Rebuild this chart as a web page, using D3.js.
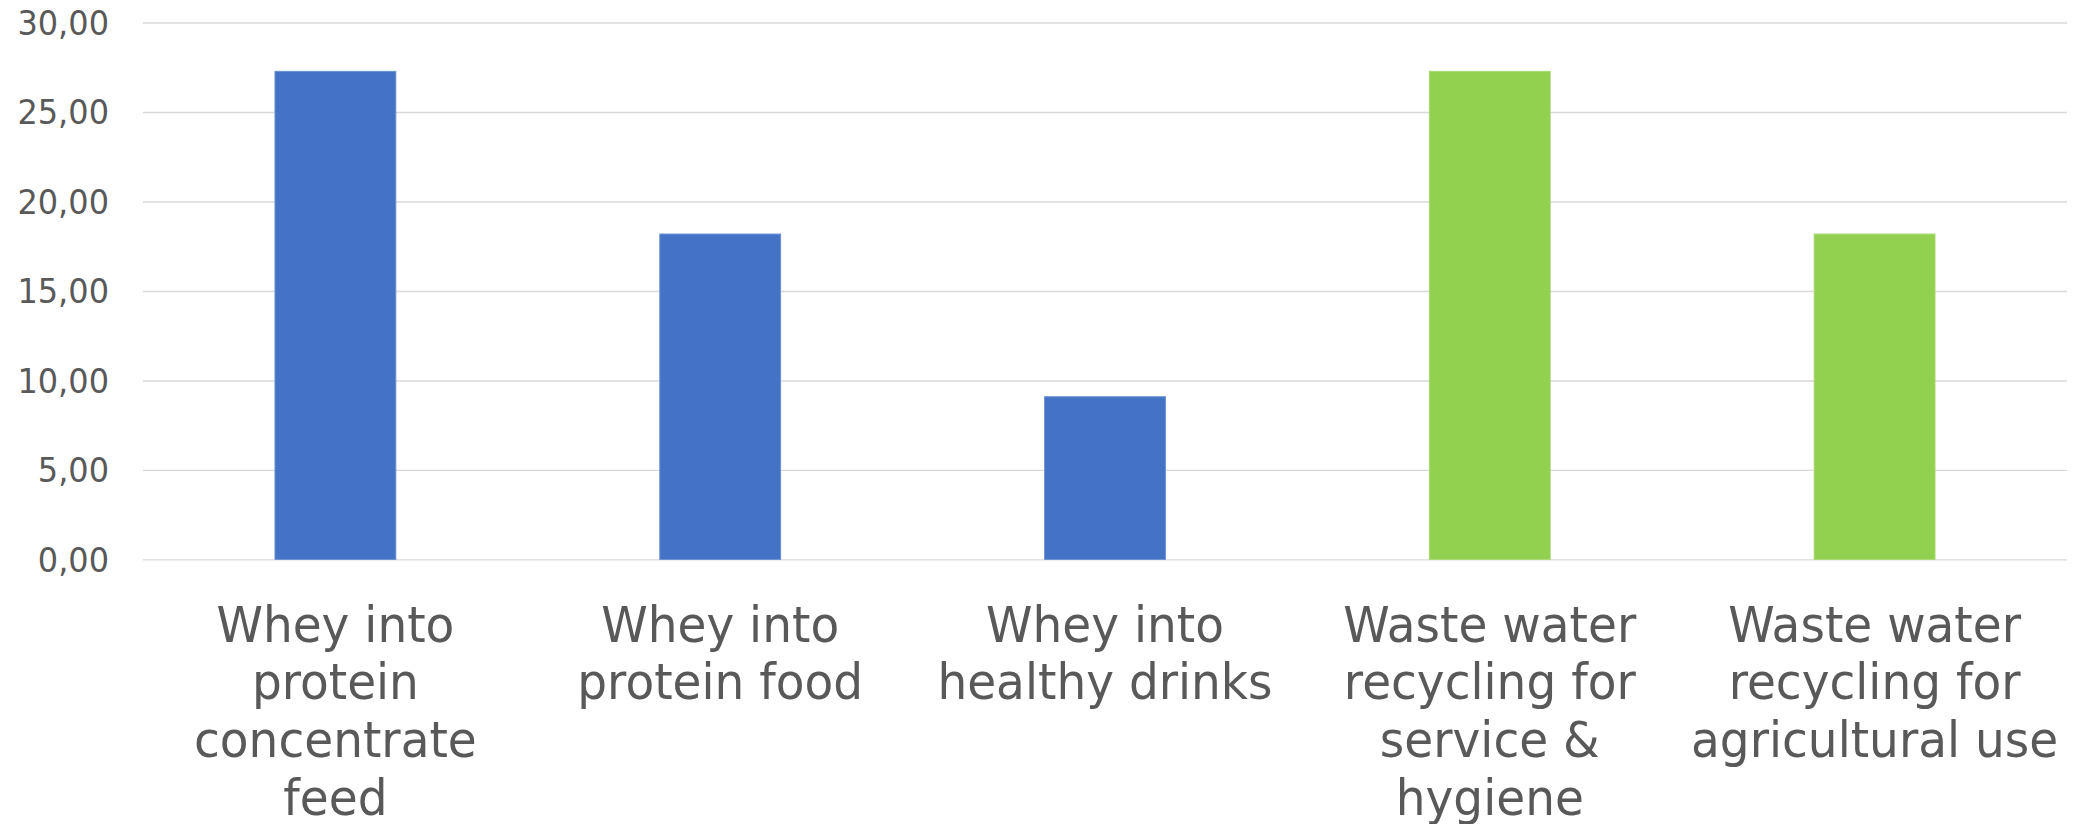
<!DOCTYPE html>
<html>
<head>
<meta charset="utf-8">
<script src="https://cdn.jsdelivr.net/npm/d3@7/dist/d3.min.js"></script>
<style>
  html, body { margin: 0; padding: 0; background: #ffffff; overflow: hidden; }
  svg { display: block; }
  text { font-family: "DejaVu Sans", Verdana, sans-serif; fill: #595959; }
</style>
</head>
<body>
<svg id="chart" width="2077" height="824"></svg>
<script>
const categories = [
  "Whey into protein concentrate feed",
  "Whey into protein food",
  "Whey into healthy drinks",
  "Waste water recycling for service & hygiene",
  "Waste water recycling for agricultural use"
];
const categoryLines = [
  ["Whey into", "protein", "concentrate", "feed"],
  ["Whey into", "protein food"],
  ["Whey into", "healthy drinks"],
  ["Waste water", "recycling for", "service &", "hygiene"],
  ["Waste water", "recycling for", "agricultural use"]
];
const values = [27.27, 18.18, 9.09, 27.27, 18.18];
const groups = ["whey", "whey", "whey", "water", "water"];
const yTicks = [0, 5, 10, 15, 20, 25, 30];

const W = 2077, H = 824;
const margin = { left: 143, right: 10, top: 22.5, bottom: 264.6 };
const stretch = 1.07; // glyphs in the reference are slightly taller than DejaVu
const svg = d3.select("#chart");

const x = d3.scaleBand()
  .domain(categories)
  .range([margin.left, W - margin.right])
  .paddingInner(0.686)
  .paddingOuter(0.343);

const y = d3.scaleLinear()
  .domain([0, 30])
  .range([H - margin.bottom, margin.top]);

const fillColor = d3.scaleOrdinal().domain(["whey", "water"]).range(["#4472C4", "#92D050"]);
const strokeColor = d3.scaleOrdinal().domain(["whey", "water"]).range(["#6a90d2", "#a8da72"]);

// gridlines + tick labels
const yAxis = d3.axisLeft(y)
  .tickValues(yTicks)
  .tickSize(-(W - margin.right - margin.left))
  .tickPadding(34)
  .tickFormat(d => d3.format(".2f")(d).replace(".", ","));

const gy = svg.append("g")
  .attr("transform", `translate(${margin.left},0)`)
  .call(yAxis);
gy.select(".domain").remove();
gy.selectAll(".tick line").attr("stroke", "#d9d9d9").attr("stroke-width", 1.4);
gy.selectAll(".tick text")
  .attr("font-size", 32)
  .attr("fill", "#595959")
  .attr("dy", "0.35em")
  .attr("transform", `scale(1,${stretch})`)
  .style("font-family", "'DejaVu Sans', Verdana, sans-serif");

// bars
svg.append("g").selectAll("rect")
  .data(categories)
  .join("rect")
  .attr("x", d => x(d))
  .attr("width", x.bandwidth())
  .attr("y", (d, i) => y(values[i]))
  .attr("height", (d, i) => y(0) - y(values[i]))
  .attr("fill", (d, i) => fillColor(groups[i]))
  .attr("stroke", (d, i) => strokeColor(groups[i]))
  .attr("stroke-width", 1);

// category labels
const firstBaseline = 641.6;
const lineH = 57.8;
const lab = svg.append("g").selectAll("text")
  .data(categories)
  .join("text")
  .attr("text-anchor", "middle")
  .attr("font-size", 47)
  .attr("transform", `scale(1,${stretch})`)
  .attr("x", d => x(d) + x.bandwidth() / 2)
  .attr("y", firstBaseline / stretch);
lab.each(function(d, i) {
  const t = d3.select(this);
  categoryLines[i].forEach((ln, j) => {
    t.append("tspan")
      .attr("x", x(d) + x.bandwidth() / 2)
      .attr("y", (firstBaseline + j * lineH) / stretch)
      .text(ln);
  });
});
</script>
</body>
</html>
